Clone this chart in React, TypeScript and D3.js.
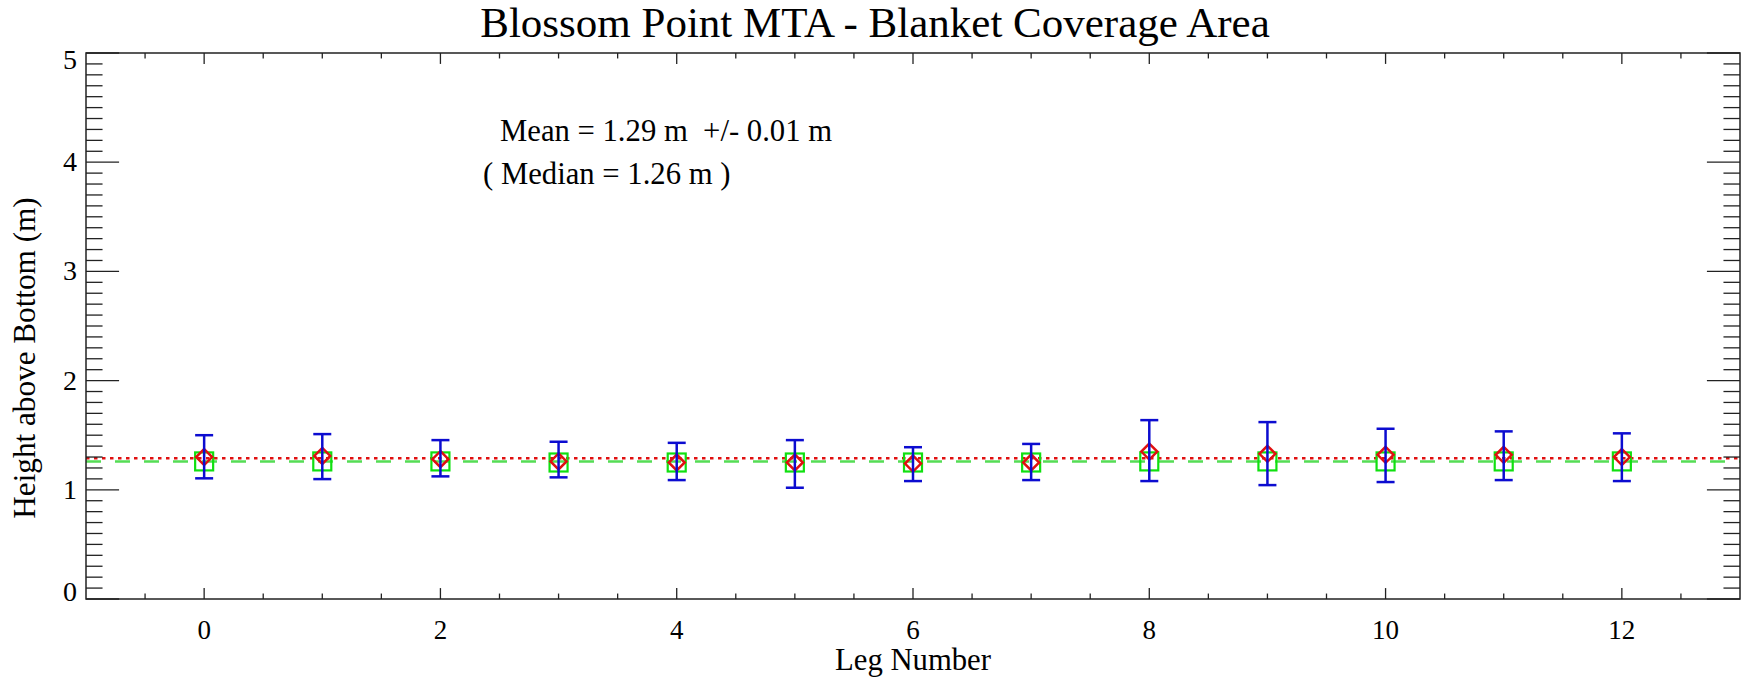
import React from 'react';
import * as d3 from 'd3';

// ---- data ----
const legs = [0, 1, 2, 3, 4, 5, 6, 7, 8, 9, 10, 11, 12];
const legMean = [1.30, 1.31, 1.28, 1.26, 1.25, 1.25, 1.24, 1.25, 1.35, 1.33, 1.32, 1.32, 1.30];
const legMedian = [1.26, 1.26, 1.26, 1.25, 1.25, 1.25, 1.25, 1.25, 1.26, 1.26, 1.26, 1.26, 1.26];
const errUpper = [1.50, 1.51, 1.455, 1.44, 1.43, 1.455, 1.39, 1.42, 1.638, 1.62, 1.559, 1.535, 1.517];
const errLower = [1.105, 1.098, 1.123, 1.114, 1.089, 1.019, 1.08, 1.089, 1.08, 1.043, 1.071, 1.089, 1.08];
const overallMean = 1.29;
const overallMedian = 1.26;
const xTickValues = [0, 2, 4, 6, 8, 10, 12];
const yTickValues = [0, 1, 2, 3, 4, 5];
const xDomain = [-1, 13];
const yDomain = [0, 5];
const titleText = 'Blossom Point MTA - Blanket Coverage Area';
const xLabel = 'Leg Number';
const yLabel = 'Height above Bottom (m)';
const meanText = 'Mean = 1.29 m  +/- 0.01 m';
const medianText = '( Median = 1.26 m )';

const W = 1748;
const H = 682;
const M = { left: 86, right: 1740, top: 53, bottom: 599 };
const FONT = '"Liberation Serif", "Times New Roman", serif';
const AXIS = '#222';
const BLUE = '#0c0cd0';
const RED = '#e01010';
const GREEN = '#10e010';

export default function App() {
  const x = d3.scaleLinear().domain(xDomain).range([M.left, M.right]);
  const y = d3.scaleLinear().domain(yDomain).range([M.bottom, M.top]);
  const plotW = M.right - M.left;
  const plotH = M.bottom - M.top;
  const xMajLen = plotH * 0.02;
  const yMajLen = plotW * 0.02;

  const xMinor = d3.range(xDomain[0] + 0.5, xDomain[1], 0.5).filter(v => !xTickValues.includes(v));
  const yMinor = d3.range(1, 50).map(i => i / 10).filter(v => Math.abs(v - Math.round(v)) > 1e-6);

  const diamond = (cx: number, cy: number, r: number) =>
    `M${cx},${cy - r}L${cx + r},${cy}L${cx},${cy + r}L${cx - r},${cy}Z`;

  const cx = (M.left + M.right) / 2;

  return (
    <svg width={W} height={H} style={{ position: 'absolute', left: 0, top: 0, background: '#fff' }}
      fontFamily={FONT}>
      <rect x={0} y={0} width={W} height={H} fill="#fff" />
      {/* title */}
      <text x={875} y={37} textAnchor="middle" fontSize={43} fill="#000">{titleText}</text>

      {/* reference lines */}
      <path d={`M${M.left},${y(overallMedian)}H${M.right}`} stroke="#55dd55" strokeWidth={2.5}
        strokeDasharray="15,14" fill="none" />
      <path d={`M${M.left},${y(overallMean)}H${M.right}`} stroke={RED} strokeWidth={2.5}
        strokeDasharray="3.5,4.5" fill="none" />

      {/* medians: green squares */}
      {legs.map((l, i) => (
        <rect key={'s' + l} x={x(l) - 9} y={y(legMedian[i]) - 9} width={18} height={18}
          fill="none" stroke={GREEN} strokeWidth={2.2} />
      ))}
      {/* means: red diamonds */}
      {legs.map((l, i) => (
        <path key={'d' + l} d={diamond(x(l), y(legMean[i]), 8)} fill="none" stroke={RED} strokeWidth={2.5} />
      ))}
      {/* error bars */}
      {legs.map((l, i) => (
        <g key={'e' + l} stroke={BLUE} strokeWidth={2.5} fill="none">
          <line x1={x(l)} x2={x(l)} y1={y(errLower[i])} y2={y(errUpper[i])} />
          <line x1={x(l) - 9} x2={x(l) + 9} y1={y(errUpper[i])} y2={y(errUpper[i])} />
          <line x1={x(l) - 9} x2={x(l) + 9} y1={y(errLower[i])} y2={y(errLower[i])} />
        </g>
      ))}

      {/* frame */}
      <rect x={M.left} y={M.top} width={plotW} height={plotH} fill="none" stroke={AXIS} strokeWidth={1.5} />

      {/* ticks */}
      <g stroke={AXIS} strokeWidth={1.3}>
        {xTickValues.map(v => (
          <g key={'xt' + v}>
            <line x1={x(v)} x2={x(v)} y1={M.bottom} y2={M.bottom - xMajLen} />
            <line x1={x(v)} x2={x(v)} y1={M.top} y2={M.top + xMajLen} />
          </g>
        ))}
        {xMinor.map(v => (
          <g key={'xm' + v}>
            <line x1={x(v)} x2={x(v)} y1={M.bottom} y2={M.bottom - xMajLen / 2} />
            <line x1={x(v)} x2={x(v)} y1={M.top} y2={M.top + xMajLen / 2} />
          </g>
        ))}
        {yTickValues.map(v => (
          <g key={'yt' + v}>
            <line x1={M.left} x2={M.left + yMajLen} y1={y(v)} y2={y(v)} />
            <line x1={M.right} x2={M.right - yMajLen} y1={y(v)} y2={y(v)} />
          </g>
        ))}
        {yMinor.map(v => (
          <g key={'ym' + v}>
            <line x1={M.left} x2={M.left + yMajLen / 2} y1={y(v)} y2={y(v)} />
            <line x1={M.right} x2={M.right - yMajLen / 2} y1={y(v)} y2={y(v)} />
          </g>
        ))}
      </g>

      {/* tick labels */}
      {xTickValues.map(v => (
        <text key={'xl' + v} x={x(v)} y={639} textAnchor="middle" fontSize={27} fill="#000">{v}</text>
      ))}
      {yTickValues.map(v => {
        const yy = Math.min(Math.max(y(v), M.top + 7), M.bottom - 7);
        return (
          <text key={'yl' + v} x={77} y={yy + 9} textAnchor="end" fontSize={28} fill="#000">{v}</text>
        );
      })}

      {/* axis titles */}
      <text x={cx} y={670} textAnchor="middle" fontSize={30.7} fill="#000">{xLabel}</text>
      <text transform={`translate(35,358) rotate(-90)`} textAnchor="middle" fontSize={31.2} fill="#000">{yLabel}</text>

      {/* annotations */}
      <text x={500} y={141} fontSize={30.7} fill="#000" style={{ whiteSpace: 'pre' }}>{meanText}</text>
      <text x={483} y={184} fontSize={30.7} fill="#000" style={{ whiteSpace: 'pre' }}>{medianText}</text>
    </svg>
  );
}
